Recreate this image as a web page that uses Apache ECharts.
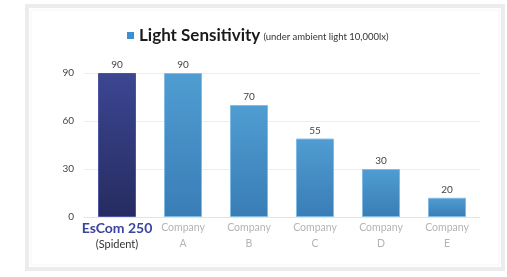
<!DOCTYPE html>
<html>
<head>
<meta charset="utf-8">
<script src="https://cdn.jsdelivr.net/npm/echarts@6/dist/echarts.min.js"></script>
<style>
  html, body { margin: 0; padding: 0; background: #fff; }
  #main { width: 507px; height: 277px; }
</style>
</head>
<body>
<div id="main"></div>
<script>
const categories = ['EsCom 250\n(Spident)', 'Company\nA', 'Company\nB', 'Company\nC', 'Company\nD', 'Company\nE']
const barValues = [90, 90, 70, 49, 30, 12] // bar heights as drawn
const barLabels = ['90', '90', '70', '55', '30', '20'] // numbers printed above bars
const yTicks = [0, 30, 60, 90]

let myChart = echarts.init(document.getElementById('main'))

const navy = new echarts.graphic.LinearGradient(0, 0, 0, 1, [
  { offset: 0, color: '#3c4692' },
  { offset: 1, color: '#262c60' }
])
const blue = new echarts.graphic.LinearGradient(0, 0, 0, 1, [
  { offset: 0, color: '#4f9dd2' },
  { offset: 1, color: '#3a7db6' }
])

myChart.setOption({
  animation: false,
  textStyle: { fontFamily: 'Lato, "Open Sans", sans-serif' },
  graphic: [
    {
      type: 'rect', silent: true,
      shape: { x: 27, y: 6, width: 476, height: 263 },
      style: { fill: '#fff', stroke: '#ececec', lineWidth: 4 }
    },
    {
      type: 'rect', silent: true,
      shape: { x: 31, y: 10, width: 468, height: 255 },
      style: { fill: 'none', stroke: '#f6f6f6', lineWidth: 1 }
    }
  ],
  legend: {
    top: 22,
    left: 122,
    icon: 'rect',
    itemWidth: 7,
    itemHeight: 7,
    itemGap: 0,
    itemStyle: { color: '#3d8fd1' },
    formatter: () => '{a|Light Sensitivity} {b|(under ambient light 10,000lx)}',
    textStyle: {
      rich: {
        a: { fontSize: 17, fontWeight: 'bold', color: '#1a1a1a', fontFamily: 'Lato' },
        b: { fontSize: 9.5, color: '#333', fontFamily: 'Lato', padding: [3, 0, 0, 0] }
      }
    },
    selectedMode: false
  },
  grid: { left: 84, right: 27, top: 73, bottom: 60 },
  xAxis: {
    type: 'category',
    data: categories,
    axisLine: { lineStyle: { color: '#e4e4e4' } },
    axisTick: { show: false },
    axisLabel: {
      interval: 0,
      margin: 3,
      lineHeight: 16,
      fontSize: 10.5,
      color: '#b4b4b4',
      formatter: (v, i) => {
        if (i === 0) {
          const p = v.split('\n')
          return '{m|' + p[0] + '}\n{s|' + p[1] + '}'
        }
        return v
      },
      rich: {
        m: { fontSize: 14, fontWeight: 'bold', color: '#3a44a0', lineHeight: 16 },
        s: { fontSize: 11, color: '#333', lineHeight: 16 }
      }
    }
  },
  yAxis: {
    type: 'value',
    min: yTicks[0],
    max: yTicks[yTicks.length - 1],
    interval: 30,
    axisLine: { show: false },
    axisTick: { show: false },
    axisLabel: { fontSize: 10, color: '#444', margin: 10 },
    splitLine: { lineStyle: { color: '#eeeeee' } }
  },
  series: [
    {
      name: 'Light Sensitivity',
      type: 'bar',
      barWidth: 38,
      data: barValues.map((v, i) => ({
        value: v,
        itemStyle: { color: i === 0 ? navy : blue, borderColor: i === 0 ? '#4a54a0' : '#7fbbe3', borderWidth: 1 }
      })),
      label: {
        show: true,
        position: 'top',
        distance: 3,
        fontSize: 10,
        color: '#444',
        formatter: p => barLabels[p.dataIndex]
      }
    }
  ]
})
</script>
</body>
</html>
